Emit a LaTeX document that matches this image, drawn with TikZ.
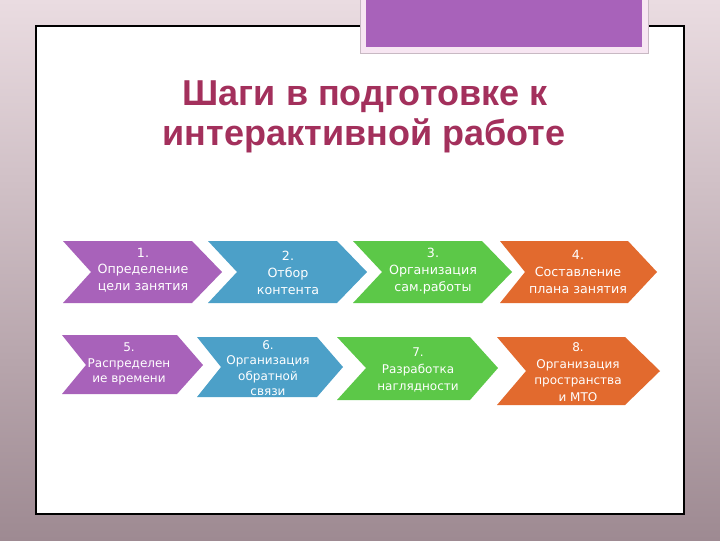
\documentclass[tikz,border=0pt]{standalone}
\usepackage{fontspec}
\newfontfamily\titlefont{Liberation Sans}
\newfontfamily\chevfont{DejaVu Sans}
\definecolor{bgtop}{RGB}{234,220,225}
\definecolor{bgmid}{RGB}{205,182,190}
\definecolor{bgbot}{RGB}{158,138,146}
\definecolor{titlecol}{RGB}{163,48,92}
\definecolor{chevpurple}{RGB}{168,98,186}
\definecolor{chevblue}{RGB}{76,160,200}
\definecolor{chevgreen}{RGB}{92,200,72}
\definecolor{chevorange}{RGB}{226,106,46}
\definecolor{tabframe}{RGB}{247,230,242}

\tikzset{every picture/.style={line width=0.75pt}}
\tikzset{
  chevtext/.style={anchor=center,inner sep=0.75pt,align=center,text=white},
  rowone/.style={font=\chevfont\fontsize{9.5}{12.5}\selectfont},
  rowtwo/.style={font=\chevfont\fontsize{9}{11.5}\selectfont}
}

\begin{document}
\begin{tikzpicture}[x=0.75pt,y=0.75pt,yscale=-1,xscale=1]
\useasboundingbox (0,0) rectangle (720,540);

%Shape: Background
\shade [top color=bgtop, middle color=bgmid, bottom color=bgbot] (0,0) rectangle (720,540);
%Shape: Rectangle (slide panel)
\draw [fill=white, line width=1.2] (36,26) -- (684,26) -- (684,514) -- (36,514) -- cycle ;
%Shape: Rectangle (tab frame)
\draw [fill=tabframe, draw={rgb, 255:red, 200; green, 185; blue, 195 }, line width=0.5] (360,-2) -- (648,-2) -- (648,53) -- (360,53) -- cycle ;
%Shape: Rectangle (tab)
\fill [chevpurple] (366,-2) -- (642,-2) -- (642,47) -- (366,47) -- cycle ;

%Shape: Chevron [1]
\fill [chevpurple] (63,241) -- (192,241) -- (222,272) -- (192,303) -- (63,303) -- (91,272) -- cycle ;
%Shape: Chevron [2]
\fill [chevblue] (208,241) -- (337,241) -- (367,272) -- (337,303) -- (208,303) -- (237,272) -- cycle ;
%Shape: Chevron [3]
\fill [chevgreen] (353,241) -- (482,241) -- (512,272) -- (482,303) -- (353,303) -- (382,272) -- cycle ;
%Shape: Chevron [4]
\fill [chevorange] (500,241) -- (628,241) -- (657,272) -- (628,303) -- (500,303) -- (525,272) -- cycle ;
%Shape: Chevron [5]
\fill [chevpurple] (62,335) -- (177,335) -- (203,365) -- (177,394) -- (62,394) -- (86,365) -- cycle ;
%Shape: Chevron [6]
\fill [chevblue] (197,337) -- (317,337) -- (343,367) -- (317,397) -- (197,397) -- (221,367) -- cycle ;
%Shape: Chevron [7]
\fill [chevgreen] (337,337) -- (470,337) -- (498,368) -- (470,400) -- (337,400) -- (366,368) -- cycle ;
%Shape: Chevron [8]
\fill [chevorange] (497,337) -- (625,337) -- (660,371) -- (625,405) -- (497,405) -- (526,371) -- cycle ;

% Text Node
\draw (365,105) node (title1) [anchor=base, text=titlecol, font=\titlefont\bfseries\fontsize{27}{30}\selectfont] {Шаги в подготовке к};
% Text Node
\draw (364,145) node (title2) [anchor=base, text=titlecol, font=\titlefont\bfseries\fontsize{27}{30}\selectfont] {интерактивной работе};

% Text Node
\draw (143,270) node (chev1) [chevtext, rowone] {1.\\Определение\\цели занятия};
% Text Node
\draw (288,273) node (chev2) [chevtext, rowone] {2.\\Отбор\\контента};
% Text Node
\draw (433,271) node (chev3) [chevtext, rowone] {3.\\Организация\\сам.работы};
% Text Node
\draw (578,272) node (chev4) [chevtext, rowone] {4.\\Составление\\плана занятия};
% Text Node
\draw (129,364) node (chev5) [chevtext, rowtwo] {5.\\Распределен\\ие времени};
% Text Node
\draw (268,368) node (chev6) [chevtext, rowtwo] {6.\\Организация\\обратной\\связи};
% Text Node
\draw (418,370) node (chev7) [chevtext, rowtwo, font=\chevfont\fontsize{9}{13}\selectfont] {7.\\Разработка\\наглядности};
% Text Node
\draw (578,372) node (chev8) [chevtext, rowtwo, font=\chevfont\fontsize{9}{12.5}\selectfont] {8.\\Организация\\пространства\\и МТО};

\end{tikzpicture}
\end{document}
